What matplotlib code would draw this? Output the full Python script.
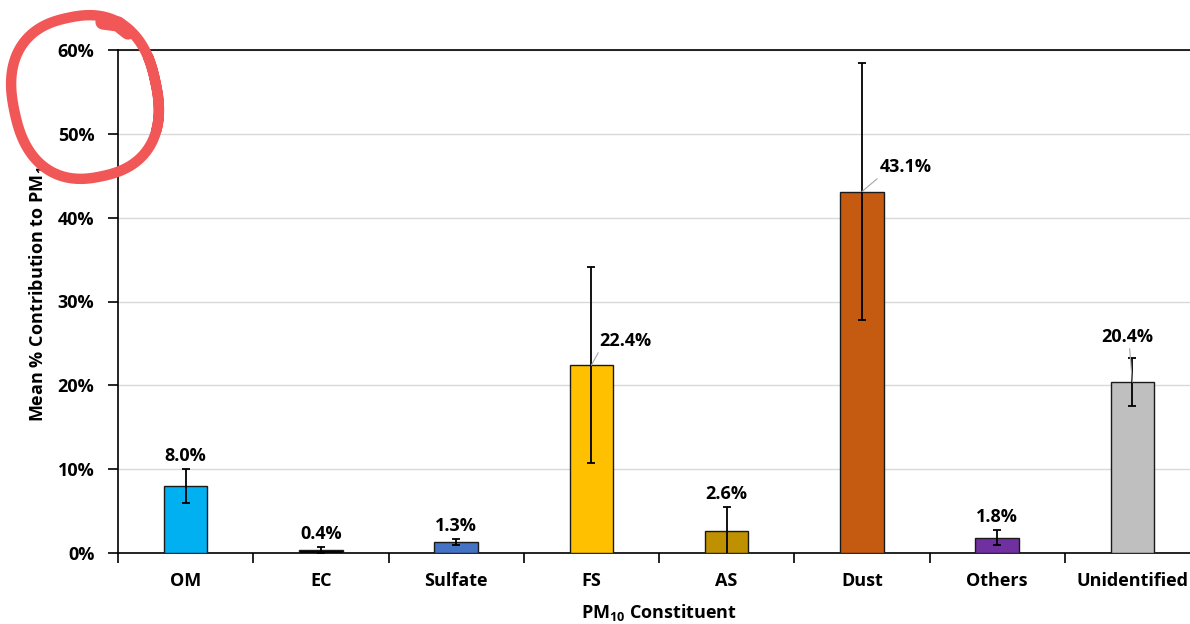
import numpy as np
import matplotlib
matplotlib.use("Agg")
import matplotlib.pyplot as plt
from matplotlib.lines import Line2D

categories = ["OM", "EC", "Sulfate", "FS", "AS", "Dust", "Others", "Unidentified"]
values = [8.0, 0.4, 1.3, 22.4, 2.6, 43.1, 1.8, 20.4]
errors = [2.0, 0.35, 0.4, 11.7, 2.9, 15.3, 0.9, 2.9]
colors = ["#00B0F0", "#000000", "#4472C4", "#FFC000", "#BF9000", "#C55A11", "#7030A0", "#BFBFBF"]
yticks = [0, 10, 20, 30, 40, 50, 60]

plt.rcParams['font.family'] = ['Open Sans', 'DejaVu Sans']
plt.rcParams['font.weight'] = 'bold'
plt.rcParams['mathtext.default'] = 'regular'

FS_ = 13
W, H = 1190, 624
fig = plt.figure(figsize=(W / 100, H / 100), dpi=100)
ax = fig.add_axes([118 / W, (H - 553) / H, (1200 - 118) / W, (553 - 50) / H])

x = np.arange(len(categories))
ax.bar(x, values, width=0.32, color=colors, edgecolor="#1a1a1a", linewidth=1.0, zorder=3)
ax.errorbar(x, values, yerr=errors, fmt='none', ecolor='black', elinewidth=1.3,
            capsize=3, capthick=1.3, zorder=4)

ax.set_xlim(-0.5, len(categories) - 0.5)
ax.set_ylim(0, 60)
ax.set_yticks(yticks)
ax.set_yticklabels([f"{t}%" for t in yticks], fontsize=FS_, fontweight='bold')
ax.yaxis.grid(True, color="#D9D9D9", linewidth=1.0, zorder=0)
ax.set_axisbelow(True)

ax.set_xticks(x)
ax.set_xticklabels(categories, fontsize=FS_, fontweight='bold')
ax.set_xticks(np.arange(len(categories) + 1) - 0.5, minor=True)
ax.tick_params(axis='x', which='major', length=0, pad=14)
ax.tick_params(axis='x', which='minor', length=7, width=1.2, direction='out')
ax.tick_params(axis='y', length=7, width=1.2, direction='out', pad=10)

for s in ['left', 'bottom', 'top']:
    ax.spines[s].set_color('black')
    ax.spines[s].set_linewidth(1.2)
ax.spines['right'].set_visible(False)

ax.set_xlabel("PM$_{10}$ Constituent", fontsize=FS_, fontweight='bold', labelpad=8)

# value labels
leader = {3: (6, 11, (0, 0)), 5: (13, 11, (0, 0)), 7: (-4, 26, (0.55, 0))}
for i, (v, e) in enumerate(zip(values, errors)):
    if i in leader:
        dx, dy, rp = leader[i]
        ax.annotate(f"{v:.1f}%", xy=(i, v), xytext=(dx, dy), textcoords='offset points',
                    ha='left' if rp[0] == 0 else 'center', va='bottom',
                    fontsize=FS_, fontweight='bold',
                    arrowprops=dict(arrowstyle='-', color='#A6A6A6', lw=0.8,
                                    shrinkA=0, shrinkB=0, relpos=rp), zorder=5)
    else:
        ax.annotate(f"{v:.1f}%", xy=(i, v + e), xytext=(0, 3), textcoords='offset points',
                    ha='center', va='bottom', fontsize=FS_, fontweight='bold', zorder=5)

fig.text(38 / W, 1 - 290 / H, "Mean % Contribution to PM$_{10}$", rotation=90,
         ha='center', va='center', fontsize=FS_, fontweight='bold')

# hand-drawn red circle annotation
t = np.linspace(-0.55, 2 * np.pi + 0.25, 400)
cx, cy, rx, ry = 85, 97, 72, 81
p = 2.4
ct, st = np.cos(t), np.sin(t)
xs = cx + rx * np.sign(ct) * np.abs(ct) ** (2 / p)
ys = cy - ry * np.sign(st) * np.abs(st) ** (2 / p) * (1 + 0.03 * (t > np.pi * 2))
ang = np.deg2rad(-12)
xr = cx + (xs - cx) * np.cos(ang) - (ys - cy) * np.sin(ang)
yr = cy + (xs - cx) * np.sin(ang) + (ys - cy) * np.cos(ang)
fig.add_artist(Line2D(xr / W, 1 - yr / H, transform=fig.transFigure, color='#F25757',
                      lw=7.5, solid_capstyle='round', solid_joinstyle='round', zorder=10))
fig.add_artist(Line2D(np.array([103, 118, 128]) / W, 1 - np.array([22, 24, 32]) / H,
                      transform=fig.transFigure, color='#F25757', lw=11,
                      solid_capstyle='round', zorder=10))

fig.savefig("out.png", dpi=100)
